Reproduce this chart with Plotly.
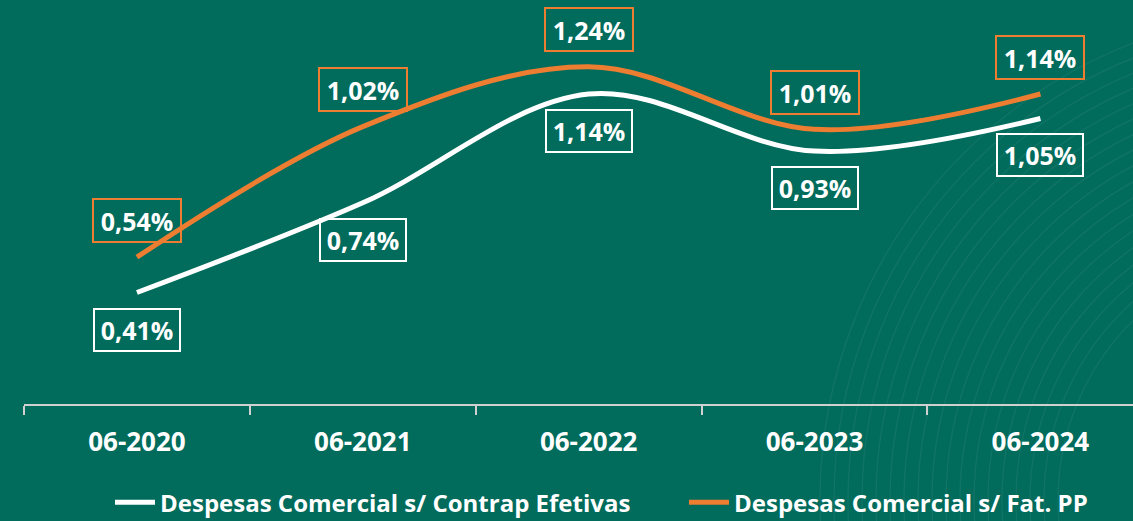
import plotly.graph_objects as go

categories = ["06-2020", "06-2021", "06-2022", "06-2023", "06-2024"]
contrap_efetivas = [0.41, 0.74, 1.14, 0.93, 1.05]
fat_pp = [0.54, 1.02, 1.24, 1.01, 1.14]
name_white = "Despesas Comercial s/ Contrap Efetivas"
name_orange = "Despesas Comercial s/ Fat. PP"

WHITE = "#FFFFFF"
ORANGE = "#ED7D31"
BG = "#016B5C"
FONT = "Open Sans"
W, H = 1133, 521
ML, MR, MT, MB = 24, 0, 10, 117

def fmt(v):
    return f"{v:.2f}".replace(".", ",") + "%"

fig = go.Figure()
fig.add_trace(go.Scatter(x=categories, y=contrap_efetivas, name=name_white, mode="lines",
                         line=dict(color=WHITE, width=5, shape="spline", smoothing=1.0),
                         hoverinfo="skip", legend="legend"))
fig.add_trace(go.Scatter(x=categories, y=fat_pp, name=name_orange, mode="lines",
                         line=dict(color=ORANGE, width=5, shape="spline", smoothing=1.0),
                         hoverinfo="skip", legend="legend2"))

annotations = []
for c, v in zip(categories, fat_pp):
    annotations.append(dict(x=c, y=v, xref="x", yref="y", text=fmt(v), showarrow=False,
                            yshift=37, font=dict(family=FONT, size=25, color=WHITE, weight="bold"),
                            bordercolor=ORANGE, borderwidth=2, borderpad=0, width=86, height=41,
                            bgcolor="rgba(0,0,0,0)"))
for c, v in zip(categories, contrap_efetivas):
    annotations.append(dict(x=c, y=v, xref="x", yref="y", text=fmt(v), showarrow=False,
                            yshift=-37, font=dict(family=FONT, size=25, color=WHITE, weight="bold"),
                            bordercolor=WHITE, borderwidth=2, borderpad=0, width=84, height=40,
                            bgcolor="rgba(0,0,0,0)"))

# faint decorative concentric arcs (background art, lower right)
pw, ph = W - ML - MR, H - MT - MB
def px_to_paper(px, py):
    return (px - ML) / pw, (H - MB - py) / ph
shapes = []
cx, cy = 1310, 500
for i in range(18):
    r = 490 - i * 14
    x0, y1 = px_to_paper(cx - r, cy - r)
    x1, y0 = px_to_paper(cx + r, cy + r)
    shapes.append(dict(type="circle", xref="paper", yref="paper", x0=x0, x1=x1, y0=y0, y1=y1,
                       line=dict(color="rgba(255,255,255,0.06)", width=1.5), layer="below"))

legend_common = dict(orientation="h", xanchor="left", xref="container", yref="container",
                     y=0.035, yanchor="middle",
                     font=dict(family=FONT, size=24, color=WHITE, weight="bold"),
                     bgcolor="rgba(0,0,0,0)", itemwidth=40)

fig.update_layout(
    width=W, height=H,
    paper_bgcolor=BG, plot_bgcolor=BG,
    margin=dict(l=ML, r=MR, t=MT, b=MB),
    showlegend=True,
    legend=dict(x=110 / W, **legend_common),
    legend2=dict(x=684 / W, **legend_common),
    annotations=annotations,
    shapes=shapes,
    xaxis=dict(type="category", range=[-0.5, 4.41], showgrid=False, zeroline=False,
               showline=True, linecolor="#D0D0D0", linewidth=2,
               ticks="outside", tickson="boundaries", ticklen=9, tickwidth=2, tickcolor="#D0D0D0",
               tickfont=dict(family=FONT, size=26, color=WHITE, weight="bold"), ticklabelstandoff=14),
    yaxis=dict(range=[0, 1.449], visible=False, showgrid=False, zeroline=False),
)

fig.write_html("out.html", config={"displayModeBar": False},
               post_script="document.body.style.margin='0';document.body.style.background='" + BG + "';")
